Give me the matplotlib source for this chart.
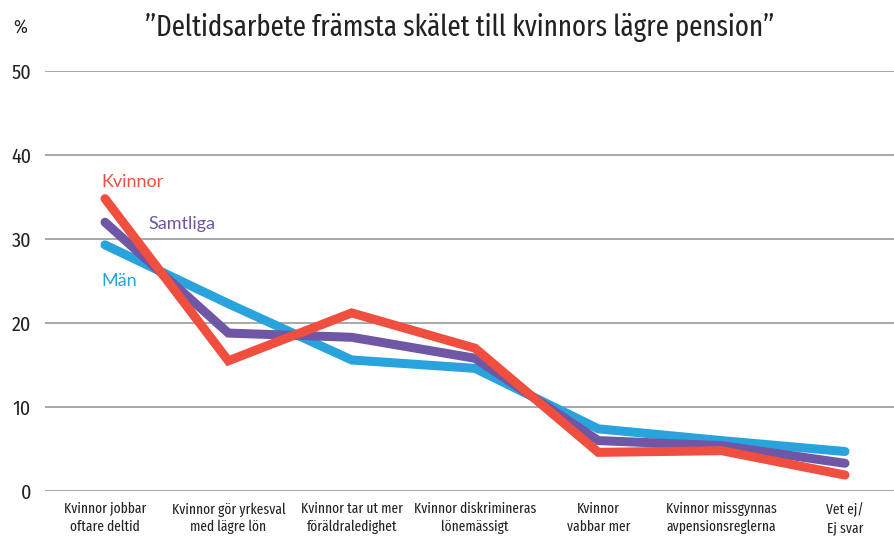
import matplotlib
matplotlib.use("Agg")
import matplotlib.pyplot as plt

categories = ["Kvinnor jobbar\noftare deltid", "Kvinnor gör yrkesval\nmed lägre lön",
              "Kvinnor tar ut mer\nföräldraledighet", "Kvinnor diskrimineras\nlönemässigt",
              "Kvinnor\nvabbar mer", "Kvinnor missgynnas\navpensionsreglerna", "Vet ej/\nEj svar"]
kvinnor = [34.8, 15.5, 21.2, 17.0, 4.6, 4.8, 1.9]
samtliga = [32.0, 18.8, 18.3, 15.8, 6.0, 5.4, 3.3]
man = [29.3, 22.3, 15.6, 14.6, 7.4, 6.0, 4.7]
yticks = [0, 10, 20, 30, 40, 50]

narrow = ["Fira Sans Extra Condensed", "DejaVu Sans"]
cond = ["Fira Sans Condensed", "DejaVu Sans"]
lato = ["Lato", "DejaVu Sans"]

RED = "#f04e3e"
PURPLE = "#6f57a5"
BLUE = "#29a3dc"
TXT = "#222222"

fig = plt.figure(figsize=(8.95, 5.37), dpi=100)
ax = fig.add_axes([45/895, 1-491/537, 1-45/895, (491-71)/537])
x = list(range(len(categories)))
for vals, c, z in [(man, BLUE, 3), (samtliga, PURPLE, 4), (kvinnor, RED, 5)]:
    ax.plot(x, vals, color=c, lw=6.5, solid_capstyle="round", solid_joinstyle="miter",
            clip_on=False, zorder=z)

ax.set_ylim(0, 50)
ax.set_xlim(-60/123.3, 6+50/123.3)
ax.set_yticks(yticks)
ax.yaxis.grid(True, color="#9a9a9a", lw=1.2)
ax.set_axisbelow(True)
for s in ax.spines.values():
    s.set_visible(False)
ax.tick_params(axis="y", length=0, pad=10, labelsize=14.5)
ax.tick_params(axis="x", length=0, pad=8, labelsize=10.5)
ax.set_xticks(x)
ax.set_xticklabels(categories, linespacing=1.3)
for lab in ax.get_yticklabels():
    lab.set_fontfamily(cond)
    lab.set_color(TXT)
for lab in ax.get_xticklabels():
    lab.set_fontfamily(narrow)
    lab.set_color(TXT)

fig.text(13/895, 1-28/537, "%", fontsize=13.5, family=cond, ha="left", va="center", color=TXT)
fig.text(460/895, 1-28/537, "”Deltidsarbete främsta skälet till kvinnors lägre pension”",
         fontsize=21, family=narrow, ha="center", va="center", color=TXT)

ax.text(-0.03, 36.8, "Kvinnor", color=RED, fontsize=13, family=lato, ha="left", va="center")
ax.text(0.35, 31.8, "Samtliga", color=PURPLE, fontsize=13, family=lato, ha="left", va="center")
ax.text(-0.03, 25.0, "Män", color=BLUE, fontsize=13, family=lato, ha="left", va="center")

fig.savefig("out.png", dpi=100)
